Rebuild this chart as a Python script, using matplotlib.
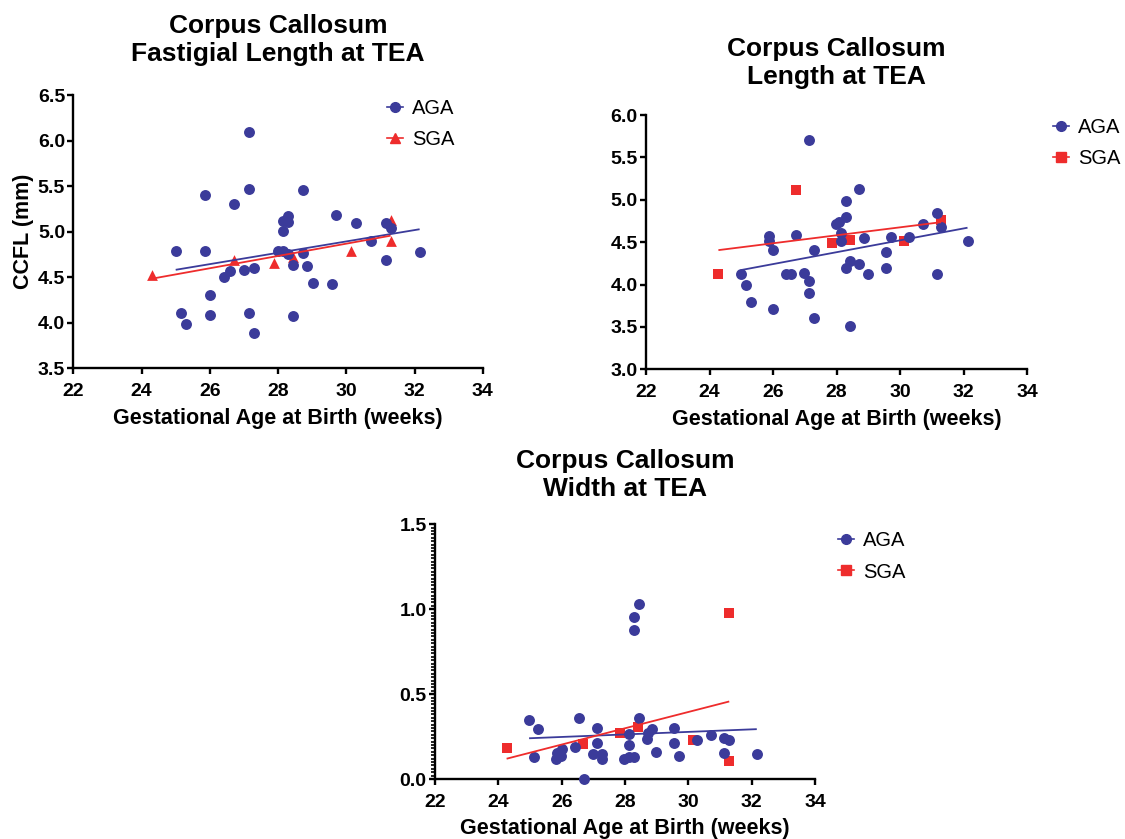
import numpy as np
import matplotlib
matplotlib.use("Agg")
import matplotlib.pyplot as plt
from matplotlib.lines import Line2D
from matplotlib.ticker import MultipleLocator

# ---- Corpus callosum fastigial length (CCFL, mm) ----
ccfl_aga_ga = [25.00, 25.15, 25.29, 25.86, 25.86, 26.02, 26.02, 26.43, 26.58, 26.71,
               26.99, 27.14, 27.14, 27.14, 27.30, 27.30, 28.01, 28.15, 28.15, 28.15,
               28.30, 28.30, 28.30, 28.44, 28.44, 28.72, 28.72, 28.86, 29.01, 29.59,
               29.71, 30.29, 30.72, 31.16, 31.16, 31.30, 32.15]
ccfl_aga = [4.79, 4.11, 3.99, 5.40, 4.79, 4.30, 4.09, 4.50, 4.57, 5.30,
            4.58, 6.09, 5.47, 4.11, 4.60, 3.89, 4.79, 4.79, 5.01, 5.12,
            5.17, 5.11, 4.75, 4.63, 4.07, 5.46, 4.77, 4.62, 4.44, 4.43,
            5.18, 5.10, 4.90, 5.10, 4.69, 5.04, 4.78]
ccfl_sga_ga = [24.30, 26.72, 27.87, 28.45, 30.14, 31.30, 31.30]
ccfl_sga = [4.52, 4.69, 4.66, 4.72, 4.79, 5.13, 4.90]

# ---- Corpus callosum length (mm) ----
ccl_aga_ga = [25.00, 25.14, 25.29, 25.87, 25.87, 26.00, 26.00, 26.41, 26.56, 26.71,
              26.98, 27.14, 27.14, 27.14, 27.29, 27.29, 27.98, 28.09, 28.13, 28.15,
              28.29, 28.29, 28.29, 28.43, 28.43, 28.69, 28.71, 28.86, 29.00, 29.56,
              29.56, 29.71, 30.29, 30.71, 31.15, 31.15, 31.29, 32.12]
ccl_aga = [4.12, 3.99, 3.79, 4.57, 4.51, 4.41, 3.71, 4.12, 4.12, 4.59,
           4.14, 5.71, 4.04, 3.90, 4.41, 3.61, 4.71, 4.74, 4.61, 4.51,
           4.99, 4.80, 4.20, 4.28, 3.51, 5.13, 4.24, 4.55, 4.12, 4.39,
           4.19, 4.56, 4.56, 4.72, 4.84, 4.12, 4.68, 4.51]
ccl_sga_ga = [24.28, 26.71, 27.85, 28.43, 30.13, 31.29]
ccl_sga = [4.12, 5.11, 4.49, 4.53, 4.51, 4.76]

# ---- Corpus callosum width (mm) ----
ccw_aga_ga = [24.97, 25.12, 25.26, 25.82, 25.84, 25.98, 26.00, 26.41, 26.56, 26.69,
              26.98, 27.13, 27.13, 27.27, 27.27, 27.97, 28.11, 28.13, 28.14, 28.28,
              28.28, 28.28, 28.43, 28.43, 28.69, 28.72, 28.86, 28.98, 29.56, 29.56,
              29.71, 30.28, 30.71, 31.12, 31.12, 31.29, 32.16]
ccw_aga = [0.348, 0.128, 0.296, 0.116, 0.155, 0.137, 0.179, 0.188, 0.357, 0.000,
           0.145, 0.298, 0.210, 0.147, 0.118, 0.118, 0.132, 0.200, 0.263, 0.952,
           0.878, 0.128, 1.029, 0.359, 0.234, 0.269, 0.296, 0.157, 0.298, 0.210,
           0.137, 0.230, 0.257, 0.240, 0.151, 0.230, 0.149]
ccw_sga_ga = [24.26, 26.68, 27.84, 28.42, 30.14, 31.29, 31.29]
ccw_sga = [0.181, 0.208, 0.269, 0.308, 0.230, 0.976, 0.108]

x_ticks = [22, 24, 26, 28, 30, 32, 34]
x_label = "Gestational Age at Birth (weeks)"

BLUE = "#3b3b9a"
RED = "#ee2c2c"
FONT = "Liberation Sans"

plt.rcParams["font.family"] = [FONT, "DejaVu Sans"]

fig = plt.figure(figsize=(11.25, 8.39), dpi=100)


def fit_line(ax, xs, ys, color):
    xs = np.asarray(xs, float)
    ys = np.asarray(ys, float)
    slope, icpt = np.polyfit(xs, ys, 1)
    xx = np.array([xs.min(), xs.max()])
    ax.plot(xx, slope * xx + icpt, color=color, lw=1.3, zorder=4,
            solid_capstyle="butt")


def panel(rect, title, aga_x, aga_y, sga_x, sga_y, sga_marker, ylim, ystep,
          legend_anchor, title_pad, ylabel=None, minor=None):
    ax = fig.add_axes(rect)
    ax.scatter(sga_x, sga_y, marker=sga_marker, s=60, color=RED, linewidths=0,
               zorder=2, clip_on=False)
    ax.scatter(aga_x, aga_y, marker="o", s=62, color=BLUE, linewidths=0,
               zorder=3, clip_on=False)
    fit_line(ax, aga_x, aga_y, BLUE)
    fit_line(ax, sga_x, sga_y, RED)

    ax.set_xlim(22, 34)
    ax.set_ylim(*ylim)
    ax.set_xticks(x_ticks)
    ax.yaxis.set_major_locator(MultipleLocator(ystep))
    ax.yaxis.set_major_formatter(plt.FuncFormatter(lambda v, p: f"{v:.1f}"))
    if minor:
        ax.yaxis.set_minor_locator(MultipleLocator(minor))
        ax.tick_params(axis="y", which="minor", length=3, width=1.2, direction="out")

    for side in ("top", "right"):
        ax.spines[side].set_visible(False)
    for side in ("left", "bottom"):
        ax.spines[side].set_linewidth(1.7)
        ax.spines[side].set_color("black")
    ax.tick_params(axis="both", which="major", length=4.5, width=1.7,
                   direction="out", labelsize=14)
    ax.tick_params(axis="x", pad=6)
    ax.tick_params(axis="y", pad=1.5)
    for lab in ax.get_xticklabels() + ax.get_yticklabels():
        lab.set_fontweight("bold")

    ax.set_xlabel(x_label, fontsize=15.5, fontweight="bold", labelpad=5.5)
    if ylabel:
        ax.set_ylabel(ylabel, fontsize=15.5, fontweight="bold", labelpad=3)
    ax.set_title(title, fontsize=19, fontweight="bold", pad=title_pad,
                 linespacing=1.22)

    handles = [
        Line2D([], [], color=BLUE, marker="o", markersize=7, lw=1.2, label="AGA"),
        Line2D([], [], color=RED, marker=sga_marker, markersize=7, lw=1.2, label="SGA"),
    ]
    ax.legend(handles=handles, loc="upper left", bbox_to_anchor=legend_anchor,
              frameon=False, fontsize=14.5, handlelength=0.8, handletextpad=0.45,
              borderpad=0, borderaxespad=0, labelspacing=0.6)
    return ax


panel([0.0652, 0.561, 0.3639, 0.3257],
      "Corpus Callosum\nFastigial Length at TEA",
      ccfl_aga_ga, ccfl_aga, ccfl_sga_ga, ccfl_sga, "^",
      (3.5, 6.5), 0.5, (0.765, 0.987), 24.5, ylabel="CCFL (mm)")

panel([0.5742, 0.5598, 0.3389, 0.3031],
      "Corpus Callosum\nLength at TEA",
      ccl_aga_ga, ccl_aga, ccl_sga_ga, ccl_sga, "s",
      (3.0, 6.0), 0.5, (1.068, 0.99), 22.5)

panel([0.3867, 0.0715, 0.3378, 0.3036],
      "Corpus Callosum\nWidth at TEA",
      ccw_aga_ga, ccw_aga, ccw_sga_ga, ccw_sga, "s",
      (0.0, 1.5), 0.5, (1.06, 0.972), 20.5, minor=0.02)

fig.savefig("out.png", dpi=100)
